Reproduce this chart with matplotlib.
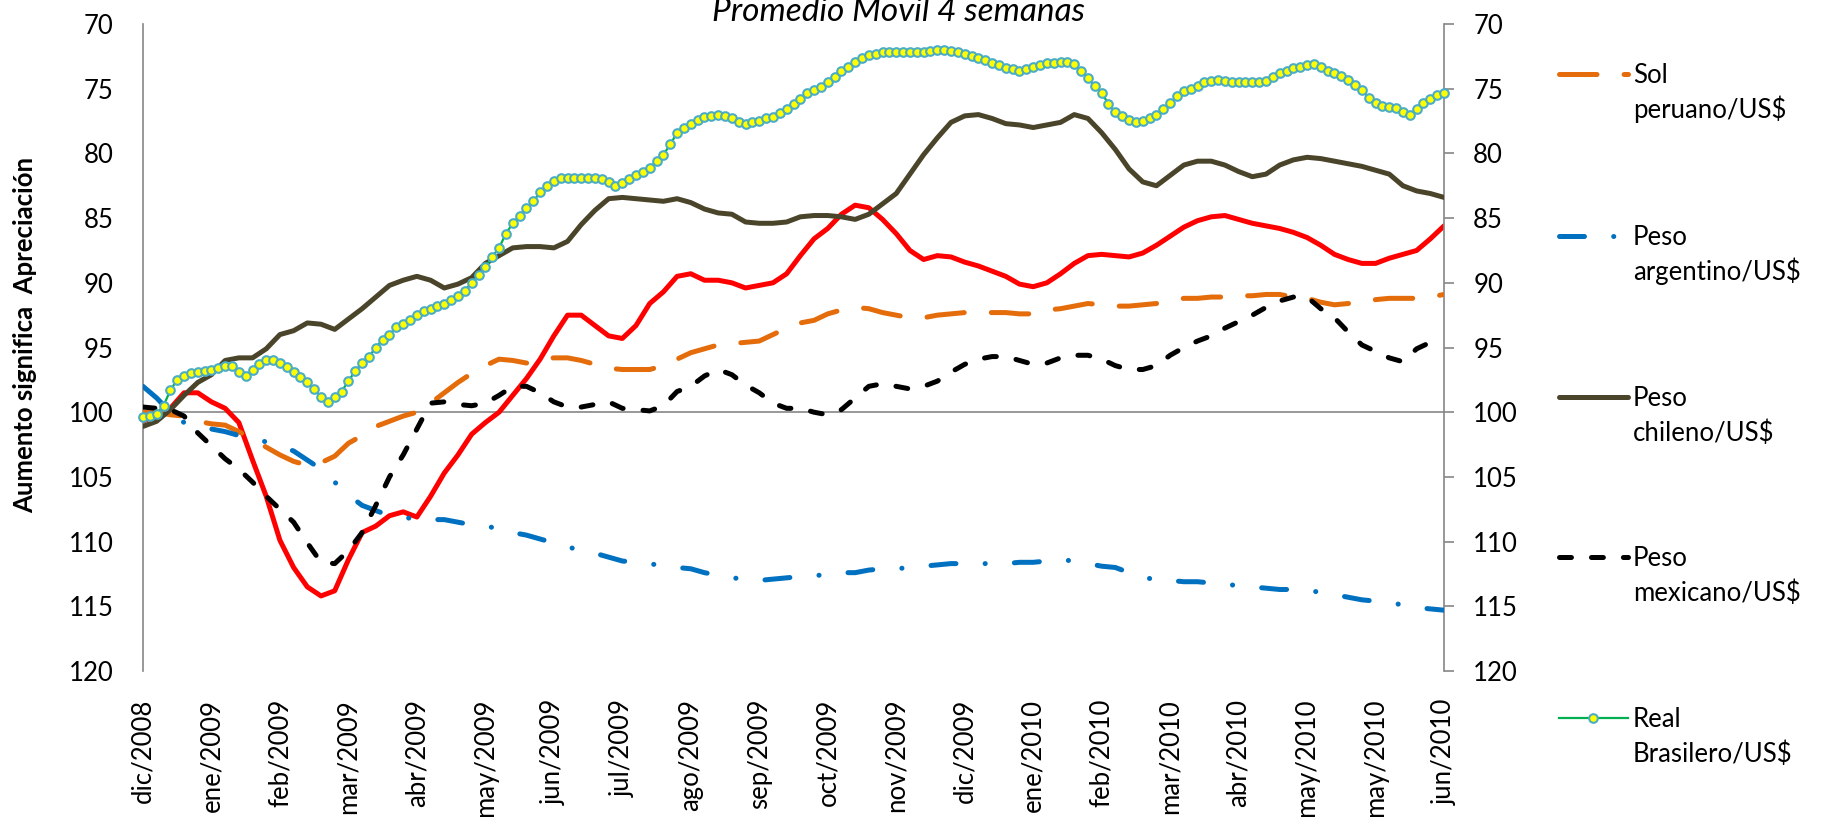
import matplotlib.pyplot as plt
from matplotlib.lines import Line2D

plt.rcParams["font.family"] = ["Lato", "DejaVu Sans"]
plt.rcParams["lines.scale_dashes"] = False

# etiquetas del eje x, una cada 5 semanas
meses = [
    "dic/2008", "ene/2009", "feb/2009", "mar/2009", "abr/2009", "may/2009",
    "jun/2009", "jul/2009", "ago/2009", "sep/2009", "oct/2009", "nov/2009",
    "dic/2009", "ene/2010", "feb/2010", "mar/2010", "abr/2010", "may/2010",
    "may/2010", "jun/2010",
]

# indices (base 100), promedio movil 4 semanas, leidos semana a semana
serie_roja = [
    100.7, 100.2, 99.7, 98.5, 98.5, 99.2, 99.7, 100.8, 103.7, 106.5,
    109.9, 112.0, 113.5, 114.2, 113.8, 111.4, 109.3, 108.8, 108.0, 107.7,
    108.1, 106.5, 104.7, 103.3, 101.7, 100.8,
    100.0, 98.7, 97.4, 95.9, 94.1, 92.5, 92.5, 93.3, 94.1, 94.3,
    93.3, 91.6, 90.7, 89.5, 89.3, 89.8, 89.8, 90.0, 90.4, 90.2,
    90.0, 89.3, 87.9, 86.6,
    85.8, 84.7, 84.0, 84.2, 85.1, 86.2, 87.5, 88.2, 87.9, 88.0,
    88.4, 88.7, 89.1, 89.5, 90.1, 90.3, 90.0, 89.3, 88.5, 87.9,
    87.8, 87.9, 88.0, 87.7,
    87.1, 86.4, 85.7, 85.2, 84.9, 84.8, 85.1, 85.4, 85.6, 85.8,
    86.1, 86.5, 87.1, 87.8, 88.2, 88.5, 88.5, 88.1, 87.8, 87.5,
    86.6, 85.6,
]

sol_peruano = [
    100.0, 100.0, 100.2, 100.3, 100.7, 100.9, 101.0, 101.5, 102.1, 102.7,
    103.3, 103.8, 104.1, 103.9, 103.4, 102.4, 101.8, 101.1, 100.7, 100.3,
    100.0, 99.3, 98.5, 97.7, 97.0,
    96.4, 95.9, 96.0, 96.2, 95.9, 95.8, 95.8, 96.0, 96.3, 96.6,
    96.7, 96.7, 96.7, 96.4, 95.9, 95.4, 95.1, 94.8, 94.7, 94.6,
    94.5, 94.0, 93.5, 93.1,
    92.9, 92.4, 92.1, 91.9, 92.0, 92.3, 92.5, 92.7, 92.7, 92.5,
    92.4, 92.3, 92.3, 92.3, 92.3, 92.4, 92.4, 92.1, 92.0, 91.8,
    91.6, 91.7, 91.8, 91.8,
    91.7, 91.6, 91.4, 91.2, 91.2, 91.1, 91.1, 91.0, 91.0, 90.9,
    90.9, 91.1, 91.2, 91.5, 91.7, 91.6, 91.5, 91.3, 91.2, 91.2,
    91.2, 91.1, 90.9,
]

peso_argentino = [
    98.0, 98.9, 100.0, 100.8, 101.0, 101.3, 101.5, 101.8, 102.0, 102.3,
    102.6, 103.0, 103.7, 104.4, 105.4, 106.4, 107.2, 107.6, 108.0, 108.1,
    108.3, 108.3, 108.3, 108.5, 108.7,
    108.8, 109.0, 109.3, 109.5, 109.8, 110.1, 110.4, 110.7, 110.9, 111.2,
    111.5, 111.6, 111.7, 111.9, 112.0, 112.1, 112.4, 112.6, 112.8, 112.9,
    113.0, 112.9, 112.8, 112.7,
    112.6, 112.6, 112.4, 112.4, 112.2, 112.1, 112.1, 112.0, 111.9, 111.8,
    111.7, 111.7, 111.7, 111.7, 111.7, 111.6, 111.6, 111.5, 111.4, 111.5,
    111.7, 111.9, 112.0, 112.4,
    112.7, 113.0, 113.0, 113.1, 113.1, 113.2, 113.3, 113.4, 113.5, 113.6,
    113.7, 113.7, 113.8, 113.9, 114.1, 114.3, 114.5, 114.6, 114.7, 114.9,
    115.1, 115.2, 115.3,
]

peso_chileno = [
    101.1, 100.7, 99.8, 98.7, 97.7, 97.1,
    96.0, 95.8, 95.8, 95.1, 94.0, 93.7, 93.1, 93.2, 93.6, 92.8,
    92.0, 91.1, 90.2, 89.8, 89.5, 89.8, 90.4, 90.1, 89.6,
    88.5, 87.9, 87.3, 87.2, 87.2, 87.3, 86.8, 85.5, 84.4, 83.5,
    83.4, 83.5, 83.6, 83.7, 83.5, 83.8, 84.3, 84.6, 84.7, 85.3,
    85.4, 85.4, 85.3, 84.9,
    84.8, 84.8, 84.9, 85.1, 84.7, 83.9, 83.1, 81.6, 80.1, 78.8,
    77.6, 77.1, 77.0, 77.3, 77.7, 77.8, 78.0, 77.8, 77.6, 77.0,
    77.3, 78.4, 79.7, 81.2,
    82.2, 82.5, 81.7, 80.9, 80.6, 80.6, 80.9, 81.4, 81.8, 81.6,
    80.9, 80.5, 80.3, 80.4, 80.6, 80.8, 81.0, 81.3, 81.6, 82.5,
    82.9, 83.1, 83.4,
]

peso_mexicano = [
    99.6, 99.7, 99.8, 100.3, 101.6, 102.6, 103.6, 104.4, 105.4, 106.5,
    107.5, 108.5, 110.1, 111.6, 111.7, 110.7, 109.3, 107.2, 105.0, 103.3,
    101.3, 99.3, 99.2, 99.4, 99.5,
    99.3, 98.7, 98.0, 98.0, 98.5, 99.2, 99.6, 99.6, 99.4, 99.2,
    99.7, 99.8, 99.9, 99.5, 98.4, 98.0, 97.2, 96.7, 97.1, 97.9,
    98.5, 99.3, 99.7, 99.7,
    100.0, 100.2, 99.8, 98.9, 98.0, 97.8, 98.0, 98.2, 98.0, 97.6,
    96.9, 96.3, 95.9, 95.7, 95.7, 96.0, 96.3, 96.2, 95.8, 95.6,
    95.6, 95.9, 96.4, 96.7,
    96.7, 96.4, 95.6, 95.0, 94.5, 94.1, 93.5, 93.0, 92.5, 91.9,
    91.4, 91.1, 91.1, 92.0, 92.7, 93.8, 94.8, 95.3, 95.8, 96.1,
    95.1, 94.6, 94.8,
]

# el real lleva marcadores: leido cada media semana
real_brasilero = [
    100.4, 100.3, 100.1, 99.5, 98.3, 97.5, 97.2, 97.0, 96.9, 96.8,
    96.7, 96.6, 96.4, 96.4, 96.9, 97.2, 96.7, 96.3, 96.0, 96.0,
    96.2, 96.5, 96.9, 97.3, 97.7, 98.2, 98.8, 99.2, 98.8, 98.4,
    97.6, 96.8, 96.2, 95.7, 95.0, 94.4, 94.0, 93.4, 93.2, 92.9,
    92.5, 92.2, 92.0, 91.8, 91.6, 91.3, 91.0, 90.6, 90.0, 89.4,
    88.8, 88.0, 87.3, 86.2, 85.4, 84.8, 84.2, 83.7, 83.0, 82.5,
    82.1, 81.9, 81.9, 81.9, 81.9, 81.9, 81.9, 82.0, 82.2, 82.5,
    82.3, 82.0, 81.7, 81.4, 81.1, 80.6, 80.1, 79.3, 78.4, 78.0,
    77.7, 77.4, 77.2, 77.1, 77.0, 77.1, 77.3, 77.6, 77.7, 77.6,
    77.5, 77.3, 77.2, 76.9, 76.6, 76.2, 75.8, 75.3, 75.1, 74.9,
    74.5, 74.1, 73.6, 73.3, 72.9, 72.6, 72.4, 72.3, 72.2, 72.2,
    72.2, 72.2, 72.2, 72.2, 72.2, 72.1, 72.0, 72.0, 72.1, 72.2,
    72.3, 72.5, 72.6, 72.8, 73.0, 73.2, 73.4, 73.5, 73.6, 73.5,
    73.3, 73.2, 73.0, 73.0, 72.9, 72.9, 73.1, 73.6, 74.2, 74.8,
    75.3, 76.2, 76.8, 77.1, 77.4, 77.6, 77.5, 77.3, 77.0, 76.6,
    76.1, 75.6, 75.2, 75.0, 74.8, 74.5, 74.4, 74.3, 74.4, 74.5,
    74.5, 74.5, 74.5, 74.5, 74.4, 74.1, 73.8, 73.6, 73.4, 73.3,
    73.2, 73.1, 73.3, 73.6, 73.8, 74.0, 74.3, 74.7, 75.1, 75.7,
    76.1, 76.3, 76.4, 76.5, 76.8, 77.0, 76.6, 76.1, 75.8, 75.5,
    75.3,
]

GRIS = "#868686"
LW = 3.6

estilos = {
    "sol": dict(color="#E46C0A", lw=LW, dashes=(27, 19.5), dash_capstyle="round"),
    "arg": dict(color="#0070C0", lw=LW, dashes=(18, 21, 0.1, 21), dash_capstyle="round"),
    "chi": dict(color="#4A452A", lw=LW, solid_capstyle="round"),
    "mex": dict(color="black", lw=LW, dashes=(8.6, 14.4), dash_capstyle="round"),
    "bra": dict(color="#00B050", lw=1.6, marker="o", markersize=6.2,
                markerfacecolor="#FFFF00", markeredgecolor="#4BACC6", markeredgewidth=1.5),
}

x = list(range(len(peso_chileno)))
x_bra = [k / 2 for k in range(len(real_brasilero))]

fig = plt.figure(figsize=(18.33, 8.17), dpi=100)
ax = fig.add_axes([0.078, 0.1787, 0.7098, 0.7919])

ax.axhline(100, color=GRIS, lw=1.2, zorder=1)
ax.plot(x, serie_roja, color="#FF0000", lw=LW, solid_capstyle="round", zorder=2)
ax.plot(x, sol_peruano, zorder=3, **estilos["sol"])
ax.plot(x, peso_argentino, zorder=4, **estilos["arg"])
ax.plot(x, peso_chileno, zorder=5, **estilos["chi"])
ax.plot(x, peso_mexicano, zorder=6, **estilos["mex"])
ax.plot(x_bra, real_brasilero, zorder=7, clip_on=False, **estilos["bra"])

ax.set_xlim(0, len(x) - 1)
ax.set_ylim(120, 70)

for lado in ["top", "bottom"]:
    ax.spines[lado].set_visible(False)
for lado in ["left", "right"]:
    ax.spines[lado].set_color(GRIS)
    ax.spines[lado].set_linewidth(1.2)

ax.set_yticks(range(70, 121, 5))
ax.tick_params(axis="y", direction="out", length=7, width=1.2, color=GRIS,
               left=False, right=True, labelleft=True, labelright=True,
               labelsize=18.5, pad=14)

ax.set_xticks(range(0, len(x), 5))
ax.set_xticklabels(meses, rotation=90)
ax.tick_params(axis="x", length=0, pad=20, labelsize=18.5)

ax.set_ylabel("Aumento significa  Apreciación", fontsize=18.5, fontweight="bold")
ax.yaxis.set_label_coords(-0.0814, 0.52)

fig.text(0.49, 1 - 21 / 817, "Promedio Movil 4 semanas", fontsize=24,
         style="italic", ha="center", va="baseline")

# leyenda a mano: la muestra va a la altura de la primera linea del texto
leyenda = [
    ("sol", "Sol", "peruano/US$", 74),
    ("arg", "Peso", "argentino/US$", 236),
    ("chi", "Peso", "chileno/US$", 397),
    ("mex", "Peso", "mexicano/US$", 557),
    ("bra", "Real", "Brasilero/US$", 718),
]
W, H = 1833, 817
for clave, linea1, linea2, y_px in leyenda:
    y = 1 - y_px / H
    x0, x1 = 1559 / W, 1628 / W
    estilo = dict(estilos[clave])
    if clave == "bra":
        muestra = Line2D([x0, (x0 + x1) / 2, x1], [y, y, y], markevery=[1],
                         transform=fig.transFigure, **estilo)
    else:
        muestra = Line2D([x0, x1], [y, y], transform=fig.transFigure, **estilo)
    fig.add_artist(muestra)
    fig.text(1633 / W, 1 - (y_px + 9) / H, linea1, fontsize=18.5, va="baseline")
    fig.text(1633 / W, 1 - (y_px + 44) / H, linea2, fontsize=18.5, va="baseline")

fig.savefig("out.png", dpi=100)
